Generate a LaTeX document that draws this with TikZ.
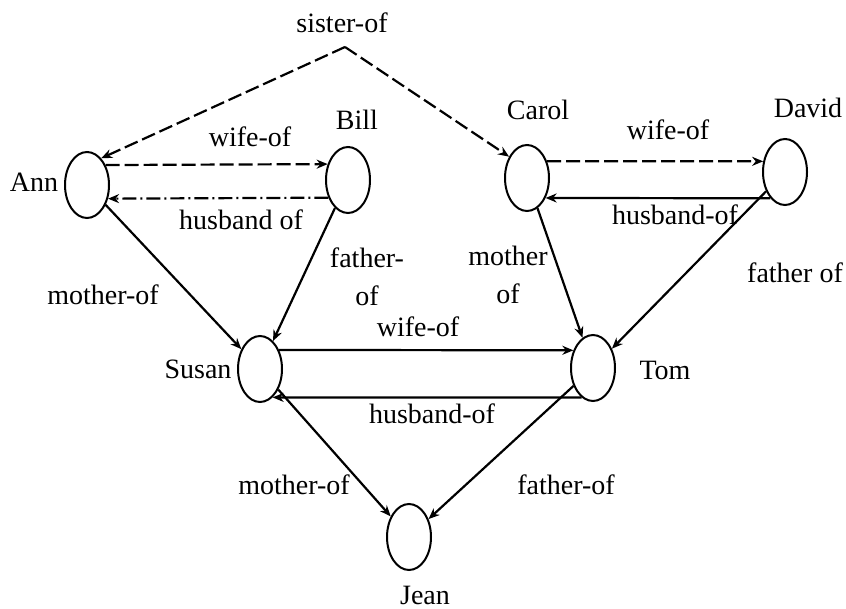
\documentclass[tikz,border=0pt]{standalone}
\usepackage{fontspec}
\setmainfont{Liberation Serif}
\usetikzlibrary{shapes.geometric,arrows.meta}
\begin{document}
\begin{tikzpicture}[x=1pt,y=-1pt,
  person/.style={draw,ellipse,line width=2pt,minimum width=44pt,minimum height=66pt,inner sep=0pt},
  txt/.style={inner sep=0pt,font=\fontsize{28}{38}\selectfont,align=center},
  rel/.style={line width=2.2pt,-{Stealth[length=11pt,width=9pt]}},
  reldash/.style={rel,dash pattern=on 14pt off 5pt},
  reldashdot/.style={rel,dash pattern=on 14pt off 4pt on 2pt off 4pt}]
\useasboundingbox (0,0) rectangle (846,609);
% people
\node[person] (ann) at (87,185) {};
\node[person] (bill) at (348,180) {};
\node[person] (carol) at (527,178) {};
\node[person] (david) at (785,172) {};
\node[person] (susan) at (260,369) {};
\node[person] (tom) at (593,368) {};
\node[person] (jean) at (409,537) {};
% names
\node[txt] (nann) at (34,182) {Ann};
\node[txt] (nbill) at (357,120) {Bill};
\node[txt] (ncarol) at (538,110) {Carol};
\node[txt] (ndavid) at (808,108) {David};
\node[txt] (nsusan) at (198,369) {Susan};
\node[txt] (ntom) at (665,370) {Tom};
\node[txt] (njean) at (425,595) {Jean};
% sister-of
\coordinate (apex) at (345,47);
\node[txt] (lsister) at (342,23) {sister-of};
\draw[reldash] (apex) -- (ann.62);
\draw[reldash] (apex) -- (carol.130);
% Ann - Bill
\draw[reldash] (ann.47) -- (bill.142);
\draw[reldashdot] (bill.222) -- (ann.-33);
\node[txt] (lw1) at (250,137) {wife-of};
\node[txt] (lh1) at (241,220) {husband of};
% Carol - David
\draw[reldash] (carol.40) -- (david.154);
\draw[rel] (david.241) -- (carol.-47);
\node[txt] (lw2) at (668,130) {wife-of};
\node[txt] (lh2) at (675,215) {husband-of};
% Susan - Tom
\draw[rel] (susan.45) -- (tom.138);
\draw[rel] (tom.249) -- (susan.-66);
\node[txt] (lw3) at (418,327) {wife-of};
\node[txt] (lh3) at (432,414) {husband-of};
% parents
\draw[rel] (ann) -- (susan);
\node[txt] (lm1) at (103,295) {mother-of};
\draw[rel] (bill) -- (susan);
\node[txt] (lf1) at (367,277) {father-\\of};
\draw[rel] (carol) -- (tom);
\node[txt] (lm2) at (508,275) {mother\\of};
\draw[rel] (david) -- (tom);
\node[txt] (lf2) at (795,273) {father of};
\draw[rel] (susan) -- (jean);
\node[txt] (lm3) at (294,485) {mother-of};
\draw[rel] (tom) -- (jean);
\node[txt] (lf3) at (566,485) {father-of};
\end{tikzpicture}
\end{document}
